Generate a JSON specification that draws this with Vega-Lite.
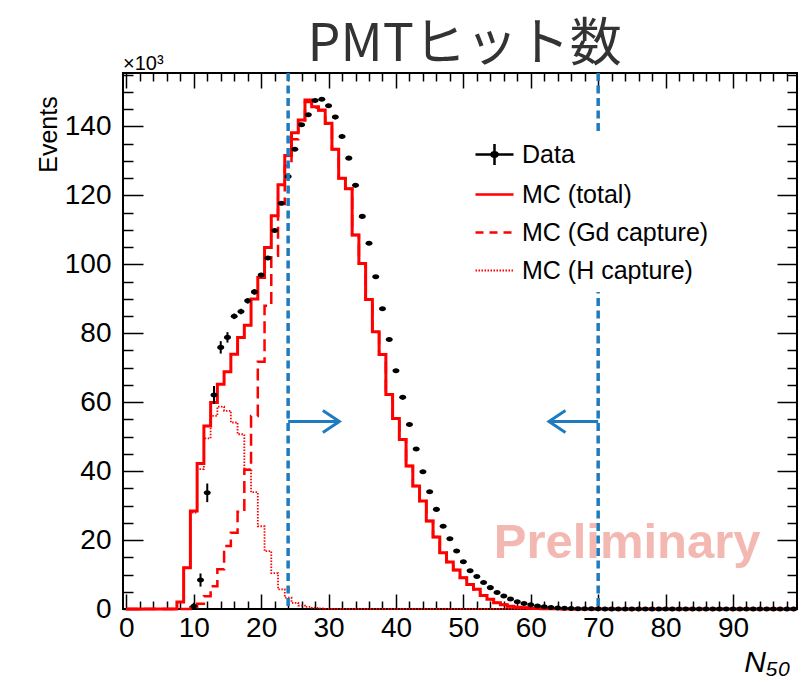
{
  "$schema": "https://vega.github.io/schema/vega-lite/v6.json",
  "width": 674,
  "height": 536,
  "autosize": "none",
  "padding": {"left": 123, "top": 73, "right": 15, "bottom": 73},
  "datasets": {
    "mc": [
      {"n":0,"total":0,"gd":0,"h":0},{"n":1,"total":0,"gd":0,"h":0},{"n":2,"total":0,"gd":0,"h":0},{"n":3,"total":0,"gd":0,"h":0},
      {"n":4,"total":0,"gd":0,"h":0},{"n":5,"total":0,"gd":0,"h":0},{"n":6,"total":0,"gd":0,"h":0},{"n":7,"total":0,"gd":0,"h":0},
      {"n":8,"total":2.0,"gd":0,"h":2.0},{"n":9,"total":12.0,"gd":0,"h":12.0},{"n":10,"total":28.4,"gd":0.5,"h":28.0},
      {"n":11,"total":42.2,"gd":1.5,"h":40.6},{"n":12,"total":53.1,"gd":3.7,"h":49.5},{"n":13,"total":59.9,"gd":6.6,"h":56.0},
      {"n":14,"total":65.2,"gd":11.5,"h":58.7},{"n":15,"total":68.8,"gd":18.3,"h":57.5},{"n":16,"total":73.9,"gd":22.1,"h":54.1},
      {"n":17,"total":78.8,"gd":28.2,"h":50.7},{"n":18,"total":82.3,"gd":40.4,"h":40.5},{"n":19,"total":89.9,"gd":56.0,"h":33.9},
      {"n":20,"total":96.2,"gd":71.7,"h":24.0},{"n":21,"total":104.9,"gd":88.0,"h":16.8},{"n":22,"total":114.1,"gd":102.5,"h":10.4},
      {"n":23,"total":123.1,"gd":117.5,"h":5.7},{"n":24,"total":131.6,"gd":128.5,"h":3.3},{"n":25,"total":138.2,"gd":136.3,"h":1.8},
      {"n":26,"total":141.9,"gd":140.9,"h":1.0},{"n":27,"total":147.7,"gd":147.1,"h":0.6},{"n":28,"total":145.7,"gd":145.4,"h":0.3},
      {"n":29,"total":144.8,"gd":144.6,"h":0.15},{"n":30,"total":140.9,"gd":140.8,"h":0.05},{"n":31,"total":133.4,"gd":133.4,"h":0},
      {"n":32,"total":125.0,"gd":125.0,"h":0},{"n":33,"total":121.9,"gd":121.9,"h":0},{"n":34,"total":108.5,"gd":108.5,"h":0},
      {"n":35,"total":100.2,"gd":100.2,"h":0},{"n":36,"total":89.8,"gd":89.8,"h":0},{"n":37,"total":80.4,"gd":80.4,"h":0},
      {"n":38,"total":73.8,"gd":73.8,"h":0},{"n":39,"total":62.2,"gd":62.2,"h":0},{"n":40,"total":55.3,"gd":55.3,"h":0},
      {"n":41,"total":49.2,"gd":49.2,"h":0},{"n":42,"total":41.5,"gd":41.5,"h":0},{"n":43,"total":35.7,"gd":35.7,"h":0},
      {"n":44,"total":31.3,"gd":31.3,"h":0},{"n":45,"total":25.5,"gd":25.5,"h":0},{"n":46,"total":20.9,"gd":20.9,"h":0},
      {"n":47,"total":16.3,"gd":16.3,"h":0},{"n":48,"total":13.6,"gd":13.6,"h":0},{"n":49,"total":11.3,"gd":11.3,"h":0},
      {"n":50,"total":9.1,"gd":9.1,"h":0},{"n":51,"total":7.1,"gd":7.1,"h":0},{"n":52,"total":5.7,"gd":5.7,"h":0},
      {"n":53,"total":3.9,"gd":3.9,"h":0},{"n":54,"total":2.8,"gd":2.8,"h":0},{"n":55,"total":1.8,"gd":1.8,"h":0},
      {"n":56,"total":1.2,"gd":1.2,"h":0},{"n":57,"total":0.8,"gd":0.8,"h":0},{"n":58,"total":0.5,"gd":0.5,"h":0},
      {"n":59,"total":0.35,"gd":0.35,"h":0},{"n":60,"total":0.25,"gd":0.25,"h":0},{"n":61,"total":0.15,"gd":0.15,"h":0},
      {"n":62,"total":0.1,"gd":0.1,"h":0},{"n":63,"total":0.06,"gd":0.06,"h":0},{"n":64,"total":0.04,"gd":0.04,"h":0},
      {"n":65,"total":0.02,"gd":0.02,"h":0},{"n":66,"total":0,"gd":0,"h":0},{"n":67,"total":0,"gd":0,"h":0},
      {"n":68,"total":0,"gd":0,"h":0},{"n":69,"total":0,"gd":0,"h":0},{"n":70,"total":0,"gd":0,"h":0},
      {"n":71,"total":0,"gd":0,"h":0},{"n":72,"total":0,"gd":0,"h":0},{"n":73,"total":0,"gd":0,"h":0},
      {"n":74,"total":0,"gd":0,"h":0},{"n":75,"total":0,"gd":0,"h":0},{"n":76,"total":0,"gd":0,"h":0},
      {"n":77,"total":0,"gd":0,"h":0},{"n":78,"total":0,"gd":0,"h":0},{"n":79,"total":0,"gd":0,"h":0},
      {"n":80,"total":0,"gd":0,"h":0},{"n":81,"total":0,"gd":0,"h":0},{"n":82,"total":0,"gd":0,"h":0},
      {"n":83,"total":0,"gd":0,"h":0},{"n":84,"total":0,"gd":0,"h":0},{"n":85,"total":0,"gd":0,"h":0},
      {"n":86,"total":0,"gd":0,"h":0},{"n":87,"total":0,"gd":0,"h":0},{"n":88,"total":0,"gd":0,"h":0},
      {"n":89,"total":0,"gd":0,"h":0},{"n":90,"total":0,"gd":0,"h":0},{"n":91,"total":0,"gd":0,"h":0},
      {"n":92,"total":0,"gd":0,"h":0},{"n":93,"total":0,"gd":0,"h":0},{"n":94,"total":0,"gd":0,"h":0},
      {"n":95,"total":0,"gd":0,"h":0},{"n":96,"total":0,"gd":0,"h":0},{"n":97,"total":0,"gd":0,"h":0},
      {"n":98,"total":0,"gd":0,"h":0},{"n":99,"total":0,"gd":0,"h":0}
    ],
    "obs": [
      {"n":10,"v":0.8,"err":1.0},{"n":11,"v":8.4,"err":1.9},{"n":12,"v":33.7,"err":2.7},{"n":13,"v":62.1,"err":2.6},
      {"n":14,"v":75.9,"err":1.8},{"n":15,"v":78.8,"err":1.5},{"n":16,"v":84.9,"err":0.8},{"n":17,"v":86.3,"err":0.8},
      {"n":18,"v":89.4,"err":0.8},{"n":19,"v":92.0,"err":0.8},{"n":20,"v":96.9,"err":0.6},{"n":21,"v":101.8,"err":0.5},
      {"n":22,"v":109.8,"err":0.5},{"n":23,"v":117.7,"err":0.5},{"n":24,"v":125.5,"err":0.5},{"n":25,"v":133.4,"err":0.5},
      {"n":26,"v":140.5,"err":0.5},{"n":27,"v":143.4,"err":0.5},{"n":28,"v":147.5,"err":0.5},{"n":29,"v":147.9,"err":0.5},
      {"n":30,"v":146.0,"err":0.5},{"n":31,"v":142.7,"err":0.5},{"n":32,"v":137.1,"err":0.5},{"n":33,"v":130.8,"err":0.5},
      {"n":34,"v":122.9,"err":0.5},{"n":35,"v":113.9,"err":0.5},{"n":36,"v":106.1,"err":0.5},{"n":37,"v":96.4,"err":0.5},
      {"n":38,"v":87.1,"err":0.5},{"n":39,"v":78.2,"err":0.5},{"n":40,"v":69.1,"err":0.5},{"n":41,"v":61.4,"err":0.5},
      {"n":42,"v":53.5,"err":0.5},{"n":43,"v":46.4,"err":0.5},{"n":44,"v":39.8,"err":0.5},{"n":45,"v":34.0,"err":0.5},
      {"n":46,"v":28.9,"err":0.5},{"n":47,"v":24.0,"err":0.5},{"n":48,"v":20.4,"err":0.5},{"n":49,"v":16.8,"err":0.5},
      {"n":50,"v":13.7,"err":0.4},{"n":51,"v":11.1,"err":0.4},{"n":52,"v":9.4,"err":0.4},{"n":53,"v":7.7,"err":0.4},
      {"n":54,"v":6.2,"err":0.4},{"n":55,"v":4.8,"err":0.4},{"n":56,"v":3.8,"err":0.4},{"n":57,"v":2.9,"err":0.4},
      {"n":58,"v":2.1,"err":0.4},{"n":59,"v":1.6,"err":0.4},{"n":60,"v":1.2,"err":0.4},{"n":61,"v":0.9,"err":0.4},
      {"n":62,"v":0.65,"err":0.4},{"n":63,"v":0.45,"err":0.4},{"n":64,"v":0.32,"err":0.4},{"n":65,"v":0.22,"err":0.4},
      {"n":66,"v":0.15,"err":0.4},{"n":67,"v":0.1,"err":0.4},{"n":68,"v":0.07,"err":0.4},{"n":69,"v":0.05,"err":0.4},
      {"n":70,"v":0.04,"err":0.4},{"n":71,"v":0.03,"err":0.4},{"n":72,"v":0.03,"err":0.4},{"n":73,"v":0.02,"err":0.4},
      {"n":74,"v":0.02,"err":0.4},{"n":75,"v":0.02,"err":0.4},{"n":76,"v":0.015,"err":0.4},{"n":77,"v":0.015,"err":0.4},
      {"n":78,"v":0.01,"err":0.4},{"n":79,"v":0.01,"err":0.4},{"n":80,"v":0.01,"err":0.4},{"n":81,"v":0.01,"err":0.4},
      {"n":82,"v":0.01,"err":0.4},{"n":83,"v":0.01,"err":0.4},{"n":84,"v":0.01,"err":0.4},{"n":85,"v":0.01,"err":0.4},
      {"n":86,"v":0.01,"err":0.4},{"n":87,"v":0.01,"err":0.4},{"n":88,"v":0.01,"err":0.4},{"n":89,"v":0.01,"err":0.4},
      {"n":90,"v":0.01,"err":0.4},{"n":91,"v":0.01,"err":0.4},{"n":92,"v":0.01,"err":0.4},{"n":93,"v":0.01,"err":0.4},
      {"n":94,"v":0.01,"err":0.4},{"n":95,"v":0.01,"err":0.4},{"n":96,"v":0.01,"err":0.4},{"n":97,"v":0.01,"err":0.4},
      {"n":98,"v":0.01,"err":0.4},{"n":99,"v":0.01,"err":0.4}
    ],
    "cuts": [{"cut": 24}, {"cut": 70}],
    "arrows": [{"from": 24, "to": 31.6, "dir": "right"}, {"from": 70, "to": 62.7, "dir": "left"}],
    "one": [{}]
  },
  "layer": [
    {
      "data": {"name": "mc"},
      "mark": {"type": "line", "interpolate": "step", "strokeWidth": 1.8, "strokeDash": [1.5, 1.5]},
      "encoding": {
        "x": {"field": "n", "type": "quantitative", "scale": {"domain": [-0.5, 99.5], "nice": false, "zero": false},
          "axis": {"orient": "bottom",
            "values": [0,2,4,6,8,10,12,14,16,18,20,22,24,26,28,30,32,34,36,38,40,42,44,46,48,50,52,54,56,58,60,62,64,66,68,70,72,74,76,78,80,82,84,86,88,90,92,94,96,98],
            "labelExpr": "datum.value % 10 === 0 ? datum.label : ''",
            "tickSize": {"condition": {"test": "datum.value % 10 === 0", "value": -15}, "value": -8},
            "tickWidth": 1.5, "tickColor": "black",
            "labelFontSize": 28, "labelPadding": 20,
            "title": "N₅₀", "titleFontStyle": "italic", "titleFontSize": 30, "titleFontWeight": "normal",
            "titleX": 667, "titleY": 62, "titleAlign": "right", "titleBaseline": "alphabetic", "titleAngle": 0}},
        "y": {"field": "h", "type": "quantitative", "scale": {"domain": [0, 155.5], "nice": false, "zero": false},
          "axis": {"orient": "left",
            "values": [0,5,10,15,20,25,30,35,40,45,50,55,60,65,70,75,80,85,90,95,100,105,110,115,120,125,130,135,140,145,150,155],
            "labelExpr": "datum.value % 20 === 0 ? datum.label : ''",
            "tickSize": {"condition": {"test": "datum.value % 20 === 0", "value": -20}, "value": -10},
            "tickWidth": 1.5, "tickColor": "black",
            "labelFontSize": 28, "labelPadding": 32,
            "title": "Events", "titleFontSize": 25, "titleFontWeight": "normal",
            "titleX": -75, "titleY": 61, "titleAlign": "center", "titleBaseline": "middle", "titleAngle": -90}},
        "color": {"datum": "MC (H capture)", "type": "nominal",
          "scale": {"domain": ["Data", "MC (total)", "MC (Gd capture)", "MC (H capture)"], "range": ["black", "red", "red", "red"]},
          "legend": {"orient": "none", "legendX": 351, "legendY": 61, "direction": "vertical", "title": null,
            "symbolSize": 1444, "symbolStrokeWidth": 2.5, "labelFontSize": 25, "labelFont": "Liberation Sans", "labelColor": "black",
            "labelOffset": 15, "labelLimit": 0, "rowPadding": 12, "padding": 8, "fillColor": "white",
            "encode": {"symbols": {"update": {
              "shape": {"signal": "datum.value === 'Data' ? 'M-1,0H1M0,-0.55V0.55M0.17,0A0.17,0.12,0,1,1,-0.17,0A0.17,0.12,0,1,1,0.17,0Z' : 'M-1,0H1'"},
              "stroke": {"signal": "datum.value === 'Data' ? '#222222' : 'red'"},
              "fill": {"signal": "datum.value === 'Data' ? '#222222' : 'transparent'"},
              "strokeDash": {"signal": "datum.value === 'MC (Gd capture)' ? [8, 6] : datum.value === 'MC (H capture)' ? [1.5, 1.5] : [1, 0]"},
              "strokeWidth": {"signal": "datum.value === 'MC (H capture)' ? 1.8 : 2.5"},
              "opacity": {"value": 1}}}}}}
      }
    },
    {
      "data": {"name": "mc"},
      "mark": {"type": "line", "interpolate": "step", "strokeWidth": 2.5, "strokeDash": [12, 6]},
      "encoding": {
        "x": {"field": "n", "type": "quantitative", "scale": {"domain": [-0.5, 99.5], "nice": false, "zero": false}, "axis": null},
        "y": {"field": "gd", "type": "quantitative", "scale": {"domain": [0, 155.5], "nice": false, "zero": false}, "axis": null},
        "color": {"datum": "MC (Gd capture)", "type": "nominal"}
      }
    },
    {
      "data": {"name": "mc"},
      "mark": {"type": "line", "interpolate": "step", "strokeWidth": 3},
      "encoding": {
        "x": {"field": "n", "type": "quantitative", "scale": {"domain": [-0.5, 99.5], "nice": false, "zero": false},
          "axis": {"orient": "top",
            "values": [0,2,4,6,8,10,12,14,16,18,20,22,24,26,28,30,32,34,36,38,40,42,44,46,48,50,52,54,56,58,60,62,64,66,68,70,72,74,76,78,80,82,84,86,88,90,92,94,96,98],
            "labels": false, "tickWidth": 1.5, "tickColor": "black", "title": null,
            "tickSize": {"condition": {"test": "datum.value % 10 === 0", "value": -15}, "value": -8}}},
        "y": {"field": "total", "type": "quantitative", "scale": {"domain": [0, 155.5], "nice": false, "zero": false},
          "axis": {"orient": "right",
            "values": [0,5,10,15,20,25,30,35,40,45,50,55,60,65,70,75,80,85,90,95,100,105,110,115,120,125,130,135,140,145,150,155],
            "labels": false, "tickWidth": 1.5, "tickColor": "black", "title": null,
            "tickSize": {"condition": {"test": "datum.value % 20 === 0", "value": -20}, "value": -10}}},
        "color": {"datum": "MC (total)", "type": "nominal"}
      }
    },
    {
      "data": {"name": "obs"},
      "mark": {"type": "errorbar", "color": "black", "thickness": 2},
      "encoding": {
        "x": {"field": "n", "type": "quantitative", "scale": {"domain": [-0.5, 99.5], "nice": false, "zero": false}, "axis": null},
        "y": {"field": "v", "type": "quantitative", "scale": {"domain": [0, 155.5], "nice": false, "zero": false}, "axis": null},
        "yError": {"field": "err"}
      }
    },
    {
      "data": {"name": "obs"},
      "mark": {"type": "point", "filled": true, "opacity": 1, "size": 49, "shape": "M-1,0A1,0.72,0,1,1,1,0A1,0.72,0,1,1,-1,0Z"},
      "encoding": {
        "x": {"field": "n", "type": "quantitative", "scale": {"domain": [-0.5, 99.5], "nice": false, "zero": false}, "axis": null},
        "y": {"field": "v", "type": "quantitative", "scale": {"domain": [0, 155.5], "nice": false, "zero": false}, "axis": null},
        "color": {"datum": "Data", "type": "nominal"}
      }
    },
    {
      "data": {"name": "one"},
      "mark": {"type": "text", "text": "Preliminary", "font": "Liberation Sans", "fontWeight": "bold", "fontSize": 49, "color": "#f4b8b2", "align": "center", "baseline": "alphabetic"},
      "encoding": {
        "x": {"datum": 74.3, "type": "quantitative", "scale": {"domain": [-0.5, 99.5], "nice": false, "zero": false}, "axis": null},
        "y": {"datum": 14.9, "type": "quantitative", "scale": {"domain": [0, 155.5], "nice": false, "zero": false}, "axis": null}
      }
    },
    {
      "data": {"name": "cuts"},
      "mark": {"type": "rule", "color": "#1f7bbf", "strokeWidth": 3.5, "strokeDash": [8, 4.5]},
      "encoding": {
        "x": {"field": "cut", "type": "quantitative", "scale": {"domain": [-0.5, 99.5], "nice": false, "zero": false}, "axis": null}
      }
    },
    {
      "data": {"name": "arrows"},
      "mark": {"type": "rule", "color": "#1f7bbf", "strokeWidth": 3},
      "encoding": {
        "x": {"field": "from", "type": "quantitative", "scale": {"domain": [-0.5, 99.5], "nice": false, "zero": false}, "axis": null},
        "x2": {"field": "to"},
        "y": {"datum": 54.4, "type": "quantitative", "scale": {"domain": [0, 155.5], "nice": false, "zero": false}, "axis": null}
      }
    },
    {
      "data": {"name": "arrows"},
      "mark": {"type": "point", "filled": false, "color": "#1f7bbf", "strokeWidth": 3, "size": 484, "opacity": 1},
      "encoding": {
        "x": {"field": "to", "type": "quantitative", "scale": {"domain": [-0.5, 99.5], "nice": false, "zero": false}, "axis": null},
        "y": {"datum": 54.4, "type": "quantitative", "scale": {"domain": [0, 155.5], "nice": false, "zero": false}, "axis": null},
        "shape": {"field": "dir", "type": "nominal", "scale": {"domain": ["right", "left"], "range": ["M-1.5,-1L0,0L-1.5,1", "M1.5,-1L0,0L1.5,1"]}, "legend": null}
      }
    },
    {
      "data": {"name": "one"},
      "mark": {"type": "text", "text": "×10³", "font": "Liberation Sans", "fontSize": 20, "color": "black", "align": "left", "baseline": "alphabetic", "dy": -3},
      "encoding": {
        "x": {"datum": -0.5, "type": "quantitative", "scale": {"domain": [-0.5, 99.5], "nice": false, "zero": false}, "axis": null},
        "y": {"datum": 155.5, "type": "quantitative", "scale": {"domain": [0, 155.5], "nice": false, "zero": false}, "axis": null}
      }
    },
    {
      "data": {"name": "one"},
      "mark": {"type": "text", "text": "PMTヒット数", "font": "Noto Sans CJK JP", "fontSize": 52, "fontWeight": "normal", "color": "#333333", "align": "center", "baseline": "alphabetic", "dy": -12},
      "encoding": {
        "x": {"datum": 50.2, "type": "quantitative", "scale": {"domain": [-0.5, 99.5], "nice": false, "zero": false}, "axis": null},
        "y": {"datum": 155.5, "type": "quantitative", "scale": {"domain": [0, 155.5], "nice": false, "zero": false}, "axis": null}
      }
    }
  ],
  "resolve": {"axis": {"x": "independent", "y": "independent"}},
  "config": {
    "font": "Liberation Sans",
    "view": {"stroke": "black", "strokeWidth": 2},
    "axis": {"grid": false, "domain": false, "labelFont": "Liberation Sans", "titleFont": "Liberation Sans", "labelColor": "black", "titleColor": "black", "labelOverlap": false, "labelBound": false, "labelFlush": false}
  }
}
